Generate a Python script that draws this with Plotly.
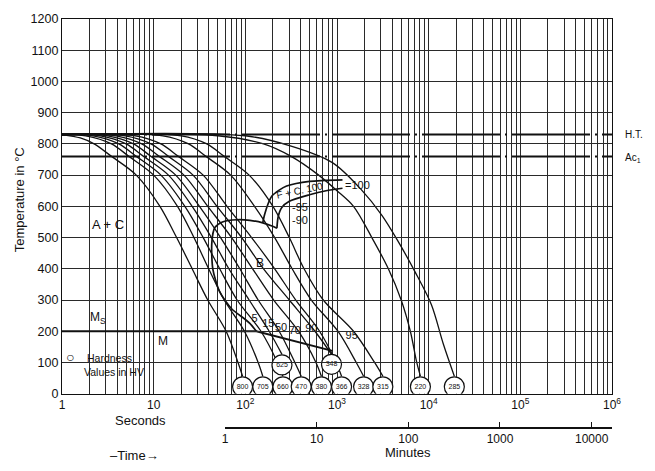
import plotly.graph_objects as go

# ---- cooling curves: time in seconds, temperature in degC ----
c01_t = [1, 1.585, 2.24, 3.47, 6.46, 11.7, 17.8, 26.3, 38.9, 61.7, 83.2, 93.3]
c01_T = [830, 819, 800, 760, 700, 600, 500, 400, 300, 200, 100, 56]
c02_t = [1, 1.82, 3.47, 5.37, 10.0, 18.2, 27.5, 39.8, 58.9, 97.7, 138, 155]
c02_T = [830, 826, 800, 760, 700, 600, 500, 400, 300, 200, 100, 56]
c03_t = [1, 2.19, 4.17, 6.46, 12.0, 21.9, 34.7, 52.5, 81.3, 148, 224, 257]
c03_T = [830, 826, 800, 760, 700, 600, 500, 400, 300, 200, 100, 56]
c04_t = [1, 2.63, 5.01, 7.76, 14.5, 26.3, 42.7, 66.1, 110, 182, 251]
c04_T = [830, 826, 800, 760, 700, 600, 500, 400, 300, 200, 126]
c05_t = [1, 3.16, 6.03, 9.33, 17.4, 31.6, 53.7, 87.1, 138, 234, 347, 407]
c05_T = [830, 826, 800, 760, 700, 600, 500, 400, 300, 200, 100, 56]
c06_t = [1, 3.89, 7.41, 11.5, 21.4, 38.9, 70.8, 120, 204, 380, 589, 676]
c06_T = [830, 826, 800, 760, 700, 600, 500, 400, 300, 200, 100, 56]
c07_t = [1, 4.90, 9.33, 14.5, 26.9, 49.0, 91.2, 158, 302, 575, 871]
c07_T = [830, 826, 800, 760, 700, 600, 500, 400, 300, 200, 126]
c08_t = [1, 6.31, 12.0, 18.6, 34.7, 63.1, 117, 209, 355, 646, 977, 1122]
c08_T = [830, 826, 800, 760, 700, 600, 500, 400, 300, 200, 100, 56]
c09_t = [1, 12.6, 24.0, 37.2, 69.2, 126, 209, 324, 525, 1023, 1622, 1950]
c09_T = [830, 826, 800, 760, 700, 600, 500, 400, 300, 200, 100, 56]
c10_t = [1, 20.0, 38.0, 58.9, 110, 200, 302, 437, 708, 1514, 2570, 3162]
c10_T = [830, 826, 800, 760, 700, 600, 500, 400, 300, 200, 100, 56]
c11_t = [1, 50.1, 158, 316, 631, 1000, 1514, 2399, 3631, 5012, 6310, 7413, 8128]
c11_T = [830, 826, 800, 760, 700, 650, 600, 500, 400, 300, 200, 100, 56]
c12_t = [1, 100, 316, 891, 1820, 3090, 4677, 7079, 10715, 14454, 19055]
c12_T = [830, 826, 793, 740, 655, 571, 486, 391, 285, 159, 56]

curves = [(c01_t, c01_T), (c02_t, c02_T), (c03_t, c03_T), (c04_t, c04_T),
          (c05_t, c05_T), (c06_t, c06_T), (c07_t, c07_T), (c08_t, c08_T),
          (c09_t, c09_T), (c10_t, c10_T), (c11_t, c11_T), (c12_t, c12_T)]

# ---- transformation lines ----
fc_start_t = [155, 162, 178, 195, 234, 282, 501, 1148]
fc_start_T = [548, 573, 610, 633, 652, 665, 680, 685]
fc_end_t = [221, 228, 250, 302, 501, 759, 1148]
fc_end_T = [530, 566, 596, 616, 637, 650, 658]
b_start_t = [132, 112, 97.7, 70.8, 52.5, 44.2, 43.1, 46.5, 56.2, 81.3, 112, 155, 195, 221]
b_start_T = [200, 225, 240, 272, 326, 399, 484, 532, 550, 557, 555, 547, 537, 530]
ms_t = [1, 132, 891]
ms_T = [200, 200, 137]

# ---- reference temperatures ----
ht_T = 830
ac1_T = 760

# ---- hardness values (HV) ----
hv_text = ["800", "705", "660", "470", "380", "366", "328", "315", "220", "285", "625", "348"]
hv_t = [93.3, 155, 257, 407, 676, 1122, 1950, 3162, 8128, 19055, 251, 871]
hv_T = [22, 22, 22, 22, 22, 22, 22, 22, 22, 22, 92, 94]

# ---- labels along the martensite line ----
ms_lab_text = ["5", "15", "50", "70", "90", "95"]
ms_lab_t = [126, 178, 245, 347, 525, 1445]
ms_lab_T = [237, 221, 209, 199, 206, 184]

x_tickvals = [1, 10, 100, 1000, 10000, 100000, 1000000]
x_ticktext = ["1", "10", "10<sup>2</sup>", "10<sup>3</sup>", "10<sup>4</sup>",
              "10<sup>5</sup>", "10<sup>6</sup>"]
min_tickvals = [60, 600, 6000, 60000, 600000]
min_ticktext = ["1", "10", "100", "1000", "10000"]

FONT = "Liberation Sans, Arial, sans-serif"
INK = "#111111"
GRID = "#2a2a2a"

fig = go.Figure()

# HT and Ac1 dash-dot lines
for yv in (ht_T, ac1_T):
    fig.add_trace(go.Scatter(x=[1, 1e6], y=[yv, yv], mode="lines",
                             line=dict(color=INK, width=2, dash="78px,5px,2px,5px"),
                             hoverinfo="skip", showlegend=False))

for t, T in curves:
    fig.add_trace(go.Scatter(x=t, y=T, mode="lines",
                             line=dict(color=INK, width=1.3, shape="spline", smoothing=0.9),
                             hoverinfo="skip", showlegend=False))

for t, T in ((fc_start_t, fc_start_T), (fc_end_t, fc_end_T), (b_start_t, b_start_T)):
    fig.add_trace(go.Scatter(x=t, y=T, mode="lines",
                             line=dict(color=INK, width=1.7, shape="spline", smoothing=0.7),
                             hoverinfo="skip", showlegend=False))

fig.add_trace(go.Scatter(x=ms_t, y=ms_T, mode="lines",
                         line=dict(color=INK, width=2),
                         hoverinfo="skip", showlegend=False))

fig.add_trace(go.Scatter(x=hv_t, y=hv_T, mode="markers+text", text=hv_text,
                         textposition="middle center",
                         textfont=dict(family=FONT, size=7, color=INK),
                         marker=dict(symbol="circle", size=20, color="white",
                                     line=dict(color=INK, width=1.2)),
                         hoverinfo="skip", showlegend=False))

fig.add_trace(go.Scatter(x=ms_lab_t, y=ms_lab_T, mode="text", text=ms_lab_text,
                         textfont=dict(family=FONT, size=11, color=INK),
                         hoverinfo="skip", showlegend=False))

# carrier trace for the minutes scale
fig.add_trace(go.Scatter(x=[60, 600000], y=[None, None], xaxis="x2", yaxis="y",
                         mode="lines", hoverinfo="skip", showlegend=False))

minor_x = [m * 10 ** d for d in range(6) for m in range(2, 10)]

fig.update_layout(
    width=655, height=471,
    margin=dict(l=62, r=43, t=14, b=20),
    paper_bgcolor="white", plot_bgcolor="rgba(0,0,0,0)",
    font=dict(family=FONT, color=INK),
    xaxis=dict(type="log", range=[0, 6], tickvals=x_tickvals, ticktext=x_ticktext,
               showgrid=True, gridcolor=GRID, gridwidth=1,
               minor=dict(tickvals=minor_x, showgrid=True, gridcolor=GRID, gridwidth=0.8),
               showline=True, mirror=True, linecolor=INK, linewidth=1.2,
               ticks="", zeroline=False, tickfont=dict(size=12)),
    xaxis2=dict(type="log", range=[1.77815, 6], domain=[0.29636, 1],
                anchor="free", position=0.0526,
                tickvals=min_tickvals, ticktext=min_ticktext,
                showline=True, linecolor=INK, linewidth=1.5,
                ticks="inside", ticklen=6, tickcolor=INK, tickwidth=1,
                showgrid=False, zeroline=False, tickfont=dict(size=12)),
    yaxis=dict(range=[0, 1200], dtick=100, domain=[0.1327, 1],
               showgrid=True, gridcolor=GRID, gridwidth=1,
               showline=True, mirror=True, linecolor=INK, linewidth=1.2,
               ticks="", zeroline=False, tickfont=dict(size=12.5)),
)

ann = [
    dict(text="Temperature in °C", x=-0.078, xref="paper", y=620, yref="y",
         textangle=-90, font=dict(size=13)),
    dict(text="H.T.", x=1.02, xref="paper", xanchor="left", y=ht_T, yref="y",
         font=dict(size=10)),
    dict(text="Ac<sub>1</sub>", x=1.02, xref="paper", xanchor="left", y=ac1_T - 6, yref="y",
         font=dict(size=10)),
    dict(text="A + C", x=0.5, xref="x", y=541, yref="y", font=dict(size=13)),
    dict(text="M<sub>S</sub>", x=0.39, xref="x", y=243, yref="y", font=dict(size=12)),
    dict(text="M", x=1.1, xref="x", y=168, yref="y", font=dict(size=12)),
    dict(text="B", x=2.16, xref="x", y=420, yref="y", font=dict(size=12)),
    dict(text="F + C. 100", x=2.59, xref="x", y=652, yref="y", textangle=-12,
         font=dict(size=10)),
    dict(text="=100", x=3.065, xref="x", xanchor="left", y=668, yref="y",
         font=dict(size=11)),
    dict(text="-95", x=2.6, xref="x", y=597, yref="y", font=dict(size=11)),
    dict(text="-90", x=2.6, xref="x", y=557, yref="y", font=dict(size=11)),
    dict(text="○", x=0.09, xref="x", y=116, yref="y", font=dict(size=14)),
    dict(text="Hardness", x=0.25, xref="x", xanchor="left", y=114, yref="y",
         font=dict(size=10.5)),
    dict(text="Values in HV", x=0.22, xref="x", xanchor="left", y=68, yref="y",
         font=dict(size=10.5)),
    dict(text="Seconds", x=0.142, xref="paper", y=0.048, yref="paper", font=dict(size=13)),
    dict(text="–Time→", x=0.131, xref="paper", y=-0.032, yref="paper", font=dict(size=13)),
    dict(text="Minutes", x=0.629, xref="paper", y=-0.025, yref="paper", font=dict(size=13)),
]
for a in ann:
    a.setdefault("showarrow", False)
    a.setdefault("xanchor", "center")
fig.update_layout(annotations=ann)

fig.write_html("out.html")
